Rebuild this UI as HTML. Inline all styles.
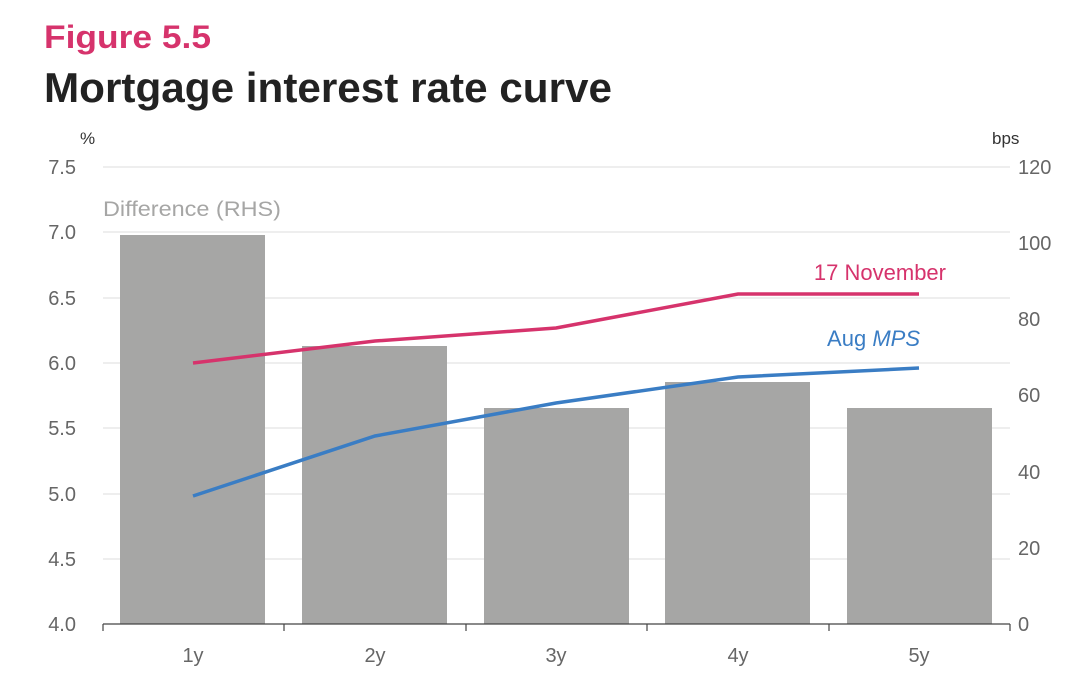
<!DOCTYPE html>
<html><head><meta charset="utf-8"><style>
body{margin:0;background:#fff;width:1080px;height:683px;overflow:hidden;font-family:"Liberation Sans",sans-serif}
</style></head><body>
<svg width="1080" height="683" xmlns="http://www.w3.org/2000/svg" font-family="Liberation Sans, sans-serif">
<text x="44" y="48" font-size="32" fill="#d6336c" font-weight="bold" textLength="167" lengthAdjust="spacingAndGlyphs">Figure 5.5</text>
<text x="44" y="102" font-size="42" fill="#222" font-weight="bold" textLength="568" lengthAdjust="spacingAndGlyphs">Mortgage interest rate curve</text>
<text x="80" y="144" font-size="17" fill="#333">%</text>
<text x="992" y="144" font-size="17" fill="#333">bps</text>
<g stroke="#dcdcdc" stroke-width="1">
<line x1="103" x2="1010" y1="167" y2="167"/><line x1="103" x2="1010" y1="232" y2="232"/>
<line x1="103" x2="1010" y1="298" y2="298"/><line x1="103" x2="1010" y1="363" y2="363"/>
<line x1="103" x2="1010" y1="428" y2="428"/><line x1="103" x2="1010" y1="494" y2="494"/>
<line x1="103" x2="1010" y1="559" y2="559"/>
</g>
<g fill="#a6a6a5">
<rect x="120" y="235" width="145" height="389"/>
<rect x="302" y="346" width="145" height="278"/>
<rect x="484" y="408" width="145" height="216"/>
<rect x="665" y="382" width="145" height="242"/>
<rect x="847" y="408" width="145" height="216"/>
</g>
<line x1="103" x2="1010" y1="624" y2="624" stroke="#444" stroke-width="1.2"/>
<g stroke="#444" stroke-width="1.2">
<line x1="103" x2="103" y1="624" y2="631"/><line x1="284" x2="284" y1="624" y2="631"/>
<line x1="466" x2="466" y1="624" y2="631"/><line x1="647" x2="647" y1="624" y2="631"/>
<line x1="829" x2="829" y1="624" y2="631"/><line x1="1010" x2="1010" y1="624" y2="631"/>
</g>
<polyline points="193,363 375,341 556,328 738,294 919,294" fill="none" stroke="#d6336c" stroke-width="3.5"/>
<polyline points="193,496 375,436 556,403 738,377 919,368" fill="none" stroke="#3a7dc4" stroke-width="3.5"/>
<text x="103" y="216" font-size="21" fill="#a6a6a5" textLength="178" lengthAdjust="spacingAndGlyphs">Difference (RHS)</text>
<text x="946" y="280" font-size="22" fill="#d6336c" text-anchor="end">17 November</text>
<text x="920" y="346" font-size="22" fill="#3a7dc4" text-anchor="end">Aug <tspan font-style="italic">MPS</tspan></text>
<g font-size="20" fill="#666" text-anchor="end">
<text x="76" y="174">7.5</text><text x="76" y="239">7.0</text><text x="76" y="305">6.5</text>
<text x="76" y="370">6.0</text><text x="76" y="435">5.5</text><text x="76" y="501">5.0</text>
<text x="76" y="566">4.5</text><text x="76" y="631">4.0</text>
</g>
<g font-size="20" fill="#666">
<text x="1018" y="174">120</text><text x="1018" y="250">100</text><text x="1018" y="326">80</text>
<text x="1018" y="402">60</text><text x="1018" y="479">40</text><text x="1018" y="555">20</text>
<text x="1018" y="631">0</text>
</g>
<g font-size="20" fill="#666" text-anchor="middle">
<text x="193" y="662">1y</text><text x="375" y="662">2y</text><text x="556" y="662">3y</text>
<text x="738" y="662">4y</text><text x="919" y="662">5y</text>
</g>
</svg>
</body></html>
